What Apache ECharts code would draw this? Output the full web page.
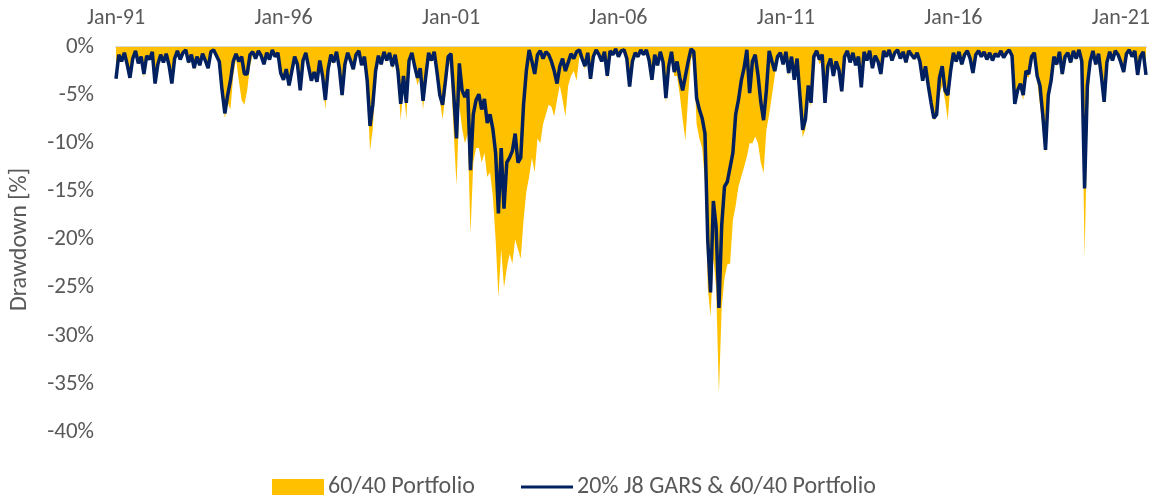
<!DOCTYPE html>
<html><head><meta charset="utf-8">
<script src="https://cdn.jsdelivr.net/npm/echarts@6/dist/echarts.min.js"></script>
<style>html,body{margin:0;padding:0;background:#fff}#c{width:1154px;height:497px}</style>
</head><body><div id="c"></div>
<script>
const startYear = 1991;
const monthNames = ['Jan','Feb','Mar','Apr','May','Jun','Jul','Aug','Sep','Oct','Nov','Dec'];
const tickEvery = 60; // label every 5 years
const yTicks = [0, -5, -10, -15, -20, -25, -30, -35, -40];
const seriesNames = ['60/40 Portfolio', '20% J8 GARS & 60/40 Portfolio'];

// monthly drawdown (%) of the 60/40 portfolio
const portfolio6040 = [
-3.3,-0.8,-1.6,-0.7,-2.0,-3.3,-1.3,-0.6,-1.8,-1.2,
-3.2,-1.0,-1.4,-0.7,-3.9,-2.0,-0.9,-1.7,-0.9,-2.1,
-3.9,-1.4,-0.5,-1.4,-0.7,-0.4,-1.8,-1.0,-2.4,-1.1,
-2.0,-0.8,-1.5,-2.3,-0.6,-0.3,-0.9,-1.8,-4.8,-7.4,
-5.8,-6.5,-3.0,-1.2,-3.5,-5.5,-6.0,-4.5,-2.0,-0.8,
-1.3,-0.5,-1.0,-1.9,-0.7,-1.4,-0.4,-1.1,-0.8,-2.8,
-3.5,-2.5,-4.2,-2.6,-1.1,-2.0,-4.7,-1.6,-0.8,-2.3,
-3.6,-2.8,-3.8,-1.6,-3.3,-6.5,-2.6,-1.0,-1.8,-0.6,
-2.4,-5.3,-2.0,-0.7,-1.5,-2.5,-0.9,-0.5,-2.0,-1.1,
-4.0,-10.8,-8.5,-3.5,-1.1,-2.0,-0.6,-1.6,-0.7,-2.3,
-1.0,-3.0,-7.6,-4.0,-7.5,-1.8,-0.8,-2.6,-4.0,-3.0,
-6.5,-3.5,-0.8,-1.6,-0.7,-3.0,-5.5,-7.5,-5.0,-0.5,
-3.0,-9.0,-14.4,-6.0,-8.5,-10.0,-9.0,-19.4,-12.0,-10.5,
-10.5,-12.0,-11.0,-13.5,-13.0,-15.5,-20.0,-26.0,-21.0,-25.0,
-23.0,-21.5,-22.5,-20.0,-21.0,-22.0,-18.0,-15.0,-13.5,-11.5,
-13.0,-9.5,-10.0,-8.0,-7.0,-6.0,-6.2,-7.2,-5.5,-4.0,
-5.5,-7.2,-4.0,-3.0,-2.5,-3.5,-1.0,-1.5,-2.3,-0.8,
-3.6,-1.2,-0.4,-0.9,-1.6,-0.6,-3.3,-0.5,-0.9,-0.3,
-1.1,-0.5,-0.4,-1.3,-4.3,-1.7,-0.7,-1.2,-0.4,-0.9,
-0.3,-1.5,-3.6,-1.0,-2.0,-0.6,-1.8,-5.8,-2.5,-1.0,
-3.0,-3.0,-5.0,-7.5,-9.7,-5.0,-1.0,-1.5,-8.0,-9.5,
-10.5,-14.0,-25.0,-28.0,-22.0,-25.0,-36.0,-27.0,-24.0,-22.6,
-22.5,-18.0,-16.5,-14.5,-13.5,-12.5,-11.4,-10.0,-10.0,-9.3,
-10.0,-12.0,-13.1,-8.6,-7.0,-5.0,-3.0,-0.8,-0.8,-2.0,
-0.6,-3.0,-1.2,-3.6,-1.5,-5.8,-9.4,-8.5,-5.0,-6.2,
-1.5,-0.8,-1.8,-1.5,-6.0,-3.0,-1.5,-3.2,-1.7,-2.6,
-4.8,-1.2,-0.5,-1.7,-0.7,-2.0,-1.1,-4.4,-0.6,-1.5,
-0.5,-2.3,-1.0,-1.6,-3.0,-0.5,-1.1,-0.4,-1.5,-0.7,
-0.4,-1.3,-0.6,-1.8,-0.5,-0.9,-1.4,-0.8,-1.8,-3.5,
-3.0,-4.5,-6.0,-7.6,-7.2,-5.0,-4.0,-5.5,-7.6,-3.5,
-1.0,-1.7,-0.7,-2.0,-1.0,-0.5,-1.3,-2.9,-0.9,-0.5,
-1.1,-0.6,-1.4,-0.7,-1.5,-0.8,-1.1,-0.5,-1.2,-0.7,
-0.4,-1.0,-6.0,-4.8,-4.2,-5.5,-3.0,-3.2,-1.5,-1.0,
-3.5,-6.0,-8.5,-11.0,-6.0,-4.0,-1.5,-2.0,-0.7,-3.0,
-1.2,-0.8,-1.8,-0.5,-1.4,-0.5,-2.5,-21.8,-8.0,-2.0,
-0.6,-2.0,-0.9,-3.3,-6.0,-1.8,-0.6,-1.5,-0.5,-0.9,
-1.7,-2.8,-0.8,-0.4,-1.1,-0.5,-3.0,-1.1,-0.6,-3.0
];

// monthly drawdown (%) of 20% J8 GARS & 60/40 portfolio
const gars2060 = [
-3.3,-0.8,-1.5,-0.6,-1.8,-3.2,-1.2,-0.4,-1.7,-1.0,
-2.8,-0.9,-1.3,-0.5,-3.8,-1.8,-0.8,-1.6,-0.7,-1.9,
-3.8,-1.2,-0.4,-1.3,-0.6,-0.3,-1.6,-0.8,-2.2,-1.0,
-1.9,-0.7,-1.4,-2.2,-0.5,-0.3,-0.9,-1.5,-4.5,-6.9,
-5.0,-3.5,-1.5,-0.7,-1.5,-1.0,-2.8,-2.8,-0.8,-0.5,
-1.2,-0.4,-0.9,-1.8,-0.6,-1.3,-0.3,-1.0,-0.6,-2.7,
-3.4,-2.3,-4.0,-2.5,-1.0,-1.8,-4.5,-1.4,-0.6,-2.1,
-3.5,-2.6,-3.6,-1.4,-3.0,-5.5,-2.3,-0.8,-1.6,-0.5,
-2.2,-5.0,-1.8,-0.6,-1.4,-2.3,-0.8,-0.4,-1.9,-1.0,
-3.5,-8.2,-6.0,-2.5,-0.9,-1.8,-0.5,-1.4,-0.6,-2.0,
-0.8,-2.5,-5.9,-3.0,-5.8,-1.4,-0.6,-2.0,-3.2,-2.2,
-5.6,-3.0,-0.6,-1.4,-0.5,-2.6,-5.0,-6.0,-3.6,-1.0,
-0.7,-5.0,-9.5,-1.7,-4.5,-5.2,-4.4,-12.8,-7.0,-5.5,
-4.9,-6.5,-5.4,-7.9,-7.0,-8.5,-11.0,-17.3,-10.5,-16.8,
-12.0,-11.5,-10.8,-9.0,-12.0,-11.5,-6.0,-2.5,-0.3,-1.5,
-2.8,-0.8,-0.4,-1.2,-0.5,-0.8,-1.5,-2.5,-3.8,-2.0,
-1.2,-2.5,-1.6,-0.7,-1.2,-0.5,-0.3,-1.2,-2.0,-0.6,
-3.3,-1.0,-0.3,-0.8,-1.5,-0.5,-3.0,-0.4,-0.8,-0.2,
-1.0,-0.4,-0.3,-1.2,-4.1,-1.5,-0.6,-1.0,-0.3,-0.8,
-0.3,-1.4,-3.4,-0.8,-1.9,-0.5,-1.6,-5.3,-2.0,-0.5,
-2.6,-1.5,-3.2,-4.5,-3.0,-1.5,-0.2,-0.5,-5.3,-6.5,
-7.4,-9.0,-20.1,-25.5,-16.0,-18.7,-27.1,-18.5,-14.5,-14.0,
-12.5,-11.0,-7.0,-5.5,-3.5,-2.2,-0.3,-4.8,-1.5,-0.8,
-2.9,-5.7,-7.6,-4.5,-0.4,-1.5,-2.5,-1.0,-0.6,-1.8,
-0.5,-2.7,-1.0,-3.4,-1.2,-5.0,-8.6,-7.5,-4.0,-5.8,
-1.0,-0.4,-1.3,-0.8,-5.8,-2.0,-1.2,-3.0,-1.5,-2.4,
-4.6,-1.0,-0.4,-1.6,-0.6,-1.9,-1.0,-4.2,-0.5,-1.4,
-0.4,-2.2,-0.9,-1.5,-2.8,-0.4,-1.0,-0.3,-1.4,-0.6,
-0.3,-1.2,-0.5,-1.6,-0.4,-0.8,-1.2,-0.6,-1.5,-3.5,
-2.0,-4.0,-5.8,-7.4,-7.0,-3.2,-2.0,-4.5,-5.0,-2.5,
-0.6,-1.5,-0.5,-1.8,-0.8,-0.4,-1.2,-2.7,-0.8,-0.4,
-1.0,-0.5,-1.3,-0.6,-1.4,-0.7,-1.0,-0.4,-1.1,-0.6,
-0.3,-0.9,-5.9,-4.5,-3.8,-5.0,-2.5,-2.8,-1.0,-0.6,
-3.0,-4.0,-7.0,-10.7,-5.0,-3.5,-1.0,-1.8,-0.5,-2.8,
-1.0,-0.6,-1.6,-0.4,-1.2,-0.3,-1.5,-14.7,-4.0,-1.5,
-0.4,-1.8,-0.7,-3.0,-5.7,-1.6,-0.5,-1.4,-0.4,-0.8,
-1.6,-2.6,-0.7,-0.3,-1.0,-0.4,-2.9,-1.0,-0.5,-2.9
];

const categories = portfolio6040.map((_, i) => {
  const y = startYear + Math.floor(i / 12);
  return monthNames[i % 12] + '-' + String(y % 100).padStart(2, '0');
});

const FONT = "Carlito, Calibri, Lato, sans-serif";
const GREY = '#595959';
const chart = echarts.init(document.getElementById('c'));
chart.setOption({
  animation: false,
  backgroundColor: '#ffffff',
  grid: { left: 114, right: 8, top: 47, bottom: 65, containLabel: false },
  legend: [
    { data: [seriesNames[0]], left: 267, top: 470, itemWidth: 52, itemHeight: 16, icon: 'rect', itemGap: 4,
      textStyle: { fontFamily: FONT, fontSize: 24, color: GREY, padding: [0, 0, 0, -1] } },
    { data: [seriesNames[1]], left: 516, top: 470, itemWidth: 52, itemHeight: 3, icon: 'rect', itemGap: 4,
      textStyle: { fontFamily: FONT, fontSize: 24, color: GREY, padding: [0, 0, 0, -1] } }
  ],
  xAxis: {
    type: 'category', position: 'top', boundaryGap: false, data: categories,
    axisLine: { show: true, lineStyle: { color: '#D9D9D9', width: 2 } },
    axisTick: { show: false },
    axisLabel: { interval: (i) => i % tickEvery === 0, margin: 18, color: GREY, fontFamily: FONT, fontSize: 22 },
    splitLine: { show: false }
  },
  yAxis: {
    type: 'value', min: yTicks[yTicks.length - 1], max: yTicks[0], interval: 5,
    name: 'Drawdown [%]', nameLocation: 'middle', nameRotate: 90, nameGap: 84,
    nameTextStyle: { fontFamily: FONT, fontSize: 24, color: GREY },
    axisLine: { show: false }, axisTick: { show: false }, splitLine: { show: false },
    axisLabel: { formatter: (v) => v + '%', margin: 22, color: GREY, fontFamily: FONT, fontSize: 23 }
  },
  series: [
    { name: seriesNames[0], type: 'line', data: portfolio6040, symbol: 'none', z: 2,
      lineStyle: { width: 0 }, itemStyle: { color: '#FFC000' },
      areaStyle: { color: '#FFC000', opacity: 1 } },
    { name: seriesNames[1], type: 'line', data: gars2060, symbol: 'none', z: 3,
      lineStyle: { width: 3.5, color: '#002060' }, itemStyle: { color: '#002060' } }
  ]
});
</script></body></html>
